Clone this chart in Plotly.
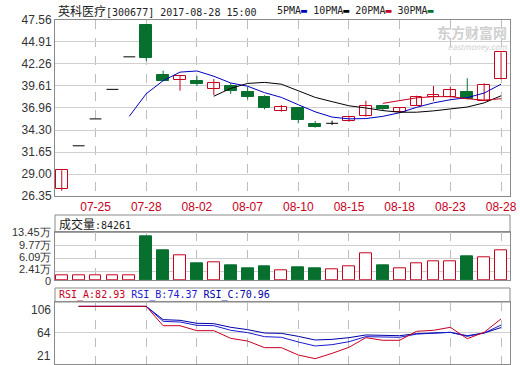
import plotly.graph_objects as go
import pandas as pd

# ---------------- data ----------------
dates = ["07-21", "07-24", "07-25", "07-26", "07-27", "07-28", "07-31", "08-01", "08-02",
         "08-03", "08-04", "08-07", "08-08", "08-09", "08-10", "08-11", "08-14", "08-15",
         "08-16", "08-17", "08-18", "08-21", "08-22", "08-23", "08-24", "08-25", "08-28"]
opens = [27.16, 32.40, 35.64, 39.20, 43.12, 46.96, 40.93, 40.30, 40.25, 39.29, 39.61, 38.89,
         38.25, 36.56, 37.00, 35.03, 35.11, 35.36, 36.03, 37.20, 36.51, 37.24, 38.33, 38.32,
         38.92, 37.80, 40.42]
highs = [29.45, 32.40, 35.64, 39.20, 43.12, 46.96, 41.45, 40.85, 40.81, 40.45, 39.94, 39.53,
         38.49, 37.32, 37.04, 35.39, 35.43, 35.90, 37.84, 37.24, 36.95, 38.44, 39.61, 39.53,
         40.54, 39.93, 43.67]
lows = [26.98, 32.40, 35.64, 39.20, 43.12, 42.62, 40.20, 39.04, 39.61, 38.49, 38.65, 38.01,
        36.80, 36.52, 35.12, 34.59, 34.91, 35.30, 35.91, 36.60, 36.40, 37.20, 37.80, 38.30,
        38.00, 37.80, 40.42]
closes = [29.45, 32.40, 35.64, 39.20, 43.12, 43.02, 40.25, 40.81, 39.89, 39.94, 38.97, 38.29,
          36.92, 37.04, 35.52, 34.71, 35.11, 35.84, 37.24, 36.84, 36.92, 38.32, 38.53, 39.16,
          38.08, 39.69, 43.67]
# volume in 万手
volumes = [1.40, 1.40, 1.40, 1.40, 1.40, 12.2, 8.26, 6.96, 4.79, 4.99, 4.23, 3.38, 3.95, 2.82,
           3.67, 3.19, 3.10, 3.95, 7.53, 4.23, 3.38, 4.79, 5.36, 5.36, 6.77, 6.48, 8.43]
rsi_a = [None, 100, 100, 100, 100, 100, 73.5, 73.5, 66.7, 66.7, 56.2, 52.5, 43.4, 43.4, 33.3,
         28.3, 35.6, 43.9, 57.1, 53.5, 53.5, 65.8, 67.2, 71.3, 55.7, 64.4, 82.93]
rsi_b = [None, 100, 100, 100, 100, 100, 79.5, 78.6, 74.0, 73.6, 67.2, 64.0, 58.5, 57.6, 51.2,
         45.7, 47.5, 51.6, 58.5, 57.6, 57.6, 62.0, 63.0, 64.4, 58.9, 63.5, 74.37]
rsi_c = [None, 100, 100, 100, 100, 100, 81.8, 80.9, 76.8, 76.3, 71.3, 68.1, 63.5, 63.0, 58.9,
         53.9, 54.8, 57.1, 60.8, 60.8, 59.8, 62.6, 63.0, 64.4, 59.8, 63.5, 70.96]

price_ticks = [47.56, 44.91, 42.26, 39.61, 36.96, 34.30, 31.65, 29.00, 26.35]
price_ticktext = ["47.56", "44.91", "42.26", "39.61", "36.96", "34.30", "31.65", "29.00", "26.35"]
vol_ticks = [13.45, 9.77, 6.09, 2.41, 0]
vol_ticktext = ["13.45万", "9.77万", "6.09万", "2.41万", "0"]
rsi_ticks = [106, 64, 21]
rsi_ticktext = ["106", "64", "21"]
date_tick_idx = [2, 5, 8, 11, 14, 17, 20, 23, 26]

stock_title = "英科医疗[300677] 2017-08-28 15:00"
vol_title = "成交量:84261"

# ---------------- styling ----------------
RED = "#c8001e"
GREEN = "#07702f"
BLUE = "#0000c0"
GRID = "#cfcfcf"
VGRID = "#bdbdbd"
BORDER = "#8a8a8a"
W, H = 520, 365
L, R = 55, 510
BODY_W = 0.7


def py(px):  # pixel row -> paper fraction
    return (H - px) / H


idx = list(range(len(dates)))
close_s = pd.Series(closes)
ma5 = close_s.rolling(5).mean()
ma10 = close_s.rolling(10).mean()
ma20 = close_s.rolling(20).mean()
ma30 = close_s.rolling(30).mean()

up = [i for i in idx if closes[i] > opens[i]]
dn = [i for i in idx if closes[i] < opens[i]]
flat = [i for i in idx if closes[i] == opens[i]]


def pick(lst, sel):
    return [lst[i] for i in sel]


fig = go.Figure()


def wicks(sel, color):
    xs, ys = [], []
    for i in sel:
        if highs[i] > lows[i]:
            xs += [i, i, None]
            ys += [lows[i], highs[i], None]
    return go.Scatter(x=xs, y=ys, mode="lines", line=dict(color=color, width=1),
                      showlegend=False, hoverinfo="skip", xaxis="x", yaxis="y")


fig.add_trace(wicks(up, RED))
fig.add_trace(wicks(dn, GREEN))
fig.add_trace(wicks(flat, "black"))

# candle bodies
fig.add_trace(go.Bar(x=up, base=[min(opens[i], closes[i]) for i in up],
                     y=[abs(closes[i] - opens[i]) for i in up], width=BODY_W,
                     marker=dict(color="white", line=dict(color=RED, width=1)),
                     showlegend=False, hoverinfo="skip", xaxis="x", yaxis="y"))
fig.add_trace(go.Bar(x=dn, base=[min(opens[i], closes[i]) for i in dn],
                     y=[abs(closes[i] - opens[i]) for i in dn], width=BODY_W,
                     marker=dict(color=GREEN, line=dict(color=GREEN, width=1)),
                     showlegend=False, hoverinfo="skip", xaxis="x", yaxis="y"))
# doji / limit-up days: horizontal black bar across the body width
fx, fy = [], []
for i in flat:
    fx += [i - BODY_W / 2, i + BODY_W / 2, None]
    fy += [opens[i], closes[i], None]
fig.add_trace(go.Scatter(x=fx, y=fy, mode="lines", line=dict(color="black", width=1),
                         showlegend=False, hoverinfo="skip", xaxis="x", yaxis="y"))

for ma, col in [(ma5, BLUE), (ma10, "black"), (ma20, RED), (ma30, GREEN)]:
    fig.add_trace(go.Scatter(x=idx, y=ma, mode="lines", line=dict(color=col, width=1),
                             showlegend=False, hoverinfo="skip", xaxis="x", yaxis="y"))

# volume
vup = [i for i in idx if closes[i] >= opens[i]]
vdn = [i for i in idx if closes[i] < opens[i]]
fig.add_trace(go.Bar(x=vup, y=pick(volumes, vup), width=BODY_W,
                     marker=dict(color="white", line=dict(color=RED, width=1)),
                     showlegend=False, hoverinfo="skip", xaxis="x2", yaxis="y2"))
fig.add_trace(go.Bar(x=vdn, y=pick(volumes, vdn), width=BODY_W,
                     marker=dict(color=GREEN, line=dict(color=GREEN, width=1)),
                     showlegend=False, hoverinfo="skip", xaxis="x2", yaxis="y2"))

# RSI
for vals, col in [(rsi_c, "#0000a8"), (rsi_b, "#1a1ad0"), (rsi_a, RED)]:
    fig.add_trace(go.Scatter(x=idx, y=vals, mode="lines", line=dict(color=col, width=1),
                             showlegend=False, hoverinfo="skip", xaxis="x3", yaxis="y3"))

tickfont = dict(family="Liberation Sans, Arial, sans-serif", size=12, color="#333333")
xr = [-0.4, 26.53]
xdom = [L / W, R / W]
xcommon = dict(domain=xdom, range=xr, tickmode="array", tickvals=date_tick_idx,
               showgrid=True, gridcolor=VGRID, griddash="dash", gridwidth=1,
               showline=True, mirror=True, linecolor=BORDER, linewidth=1,
               zeroline=False, ticks="", ticklen=0, fixedrange=True, automargin=False)
ycommon = dict(showgrid=True, gridcolor=GRID, gridwidth=1, showline=True, mirror=True,
               linecolor=BORDER, linewidth=1, zeroline=False, ticks="", ticklen=0,
               tickfont=tickfont, fixedrange=True, automargin=False)

fig.update_layout(
    width=W, height=H, margin=dict(l=0, r=0, t=0, b=0, pad=0), autosize=False,
    paper_bgcolor="white", plot_bgcolor="white",
    barmode="overlay", bargap=0,
    xaxis=dict(**xcommon, anchor="y", ticktext=[dates[i] for i in date_tick_idx],
               tickfont=dict(family="Liberation Sans, Arial, sans-serif", size=12, color=RED),
               ticklabeloverflow="allow"),
    yaxis=dict(**ycommon, domain=[py(196), py(20)], range=[26.35, 47.56],
               tickmode="array", tickvals=price_ticks, ticktext=price_ticktext),
    xaxis2=dict(**xcommon, anchor="y2", showticklabels=False),
    yaxis2=dict(**ycommon, domain=[py(280), py(232.3)], range=[0, 13.45],
                tickmode="array", tickvals=vol_ticks, showticklabels=False),
    xaxis3=dict(**xcommon, anchor="y3", showticklabels=False),
    yaxis3=dict(**ycommon, domain=[py(364), py(302)], range=[21, 106],
                tickmode="array", tickvals=rsi_ticks, showticklabels=False),
    font=dict(family="Liberation Sans, Arial, sans-serif", size=12, color="#222222"),
)

# header boxes of the lower panels
for top, bot in [(215, 232.3), (288, 302)]:
    fig.add_shape(type="rect", xref="paper", yref="paper", x0=L / W, x1=R / W,
                  y0=py(bot), y1=py(top), line=dict(color=BORDER, width=1),
                  fillcolor="white", layer="below")

mono = "DejaVu Sans Mono, Liberation Mono, monospace"
cjk = "font-family:Noto Sans CJK SC;font-size:12px"
ann = []
name, rest = stock_title.split("[", 1)
ann.append(dict(text=f"<span style='{cjk}'>{name}</span>[{rest}", x=56 / W, y=py(10),
                xanchor="left", yanchor="middle", font=dict(family=mono, size=10, color="#222")))
legend_txt = ("5PMA<span style='color:#0000c0'>▬</span> 10PMA<span style='color:black'>▬</span> "
              "20PMA<span style='color:#c8001e'>▬</span> 30PMA<span style='color:#07702f'>▬</span>")
ann.append(dict(text=legend_txt, x=275 / W, y=py(10), xanchor="left", yanchor="middle",
                font=dict(family=mono, size=10, color="#222")))
vname, vnum = vol_title.split(":", 1)
ann.append(dict(text=f"<span style='{cjk}'>{vname}</span>:{vnum}", x=57 / W, y=py(223.5),
                xanchor="left", yanchor="middle", font=dict(family=mono, size=10, color="#222")))
rsi_txt = ("<span style='color:#c8001e'>RSI_A:82.93</span> "
           "<span style='color:#1a1ad0'>RSI_B:74.37</span> "
           "<span style='color:#0000a8'>RSI_C:70.96</span>")
ann.append(dict(text=rsi_txt, x=57 / W, y=py(295), xanchor="left", yanchor="middle",
                font=dict(family=mono, size=10)))
# watermark (one text block, below the legend line)
ann.append(dict(text="<span style='font-size:14px;font-weight:bold'>东方财富网</span><br>"
                     "<span style='font-size:8px'><i>eastmoney.com</i></span>",
                x=510 / W, y=py(20), xanchor="right", yanchor="top", align="right",
                font=dict(family="Noto Sans CJK SC", size=9, color="#d0d0d0")))
# RSI axis labels (drawn slightly inside the panel as in the original)
for v, t, sh in zip(rsi_ticks, rsi_ticktext, [-8, 0, 8]):
    ann.append(dict(text=t, xref="paper", yref="y3", x=53 / W, y=v, yshift=sh,
                    xanchor="right", yanchor="middle", font=tickfont))
# volume axis labels
vfont = dict(tickfont, size=11)
for v, t, sh in zip(vol_ticks, vol_ticktext, [0, 0, 1, 2, -1]):
    ann.append(dict(text=t, xref="paper", yref="y2", x=53 / W, y=v, yshift=sh,
                    xanchor="right", yanchor="middle", font=vfont))
for a in ann:
    a.setdefault("xref", "paper")
    a.setdefault("yref", "paper")
    a["showarrow"] = False
fig.update_layout(annotations=ann)

fig.write_html("out.html", config={"displayModeBar": False},
               post_script="document.body.style.margin='0px';")
